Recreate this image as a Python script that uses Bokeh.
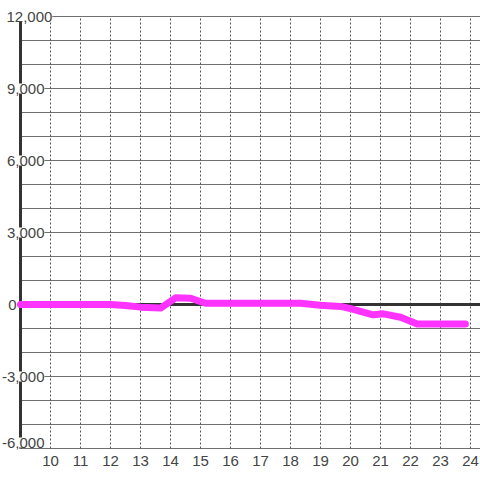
from bokeh.plotting import figure
from bokeh.models import FixedTicker, Range1d
from bokeh.core.properties import value
from bokeh.embed import file_html
from bokeh.resources import INLINE

# data
hours = [9, 12, 12.5, 13.0, 13.67, 14.17, 14.67, 15.17, 18.33, 19.0, 19.67,
         20.0, 20.75, 21.1, 21.67, 22.22, 23.83]
values = [0, 0, -40, -110, -150, 280, 260, 50, 50, -30, -80,
          -170, -430, -390, -530, -810, -810]
x_ticks = [10, 11, 12, 13, 14, 15, 16, 17, 18, 19, 20, 21, 22, 23, 24]
y_ticks_mid = [9000, 6000, 3000, -3000]
y_labels_mid = ["9,000", "6,000", "3,000", "-3,000"]
y_bottom = [-6000]
y_bottom_label = ["-6,000"]
y_top = [12000]
y_top_label = ["12,000"]
y_zero = [0]
y_zero_label = ["0"]
y_min, y_max, y_step = -6000, 12000, 1000
x_start = 9

FONT = "Liberation Sans"
TXT = "#444444"

px_per_x = 30.0          # pixels per hour
px_per_y = 24.0 / 1000   # pixels per unit
x_lo = x_start - 20 / px_per_x
x_hi = x_lo + 480 / px_per_x
y_hi = y_max + 16 / px_per_y
y_lo = y_min - 1 / px_per_y

p = figure(width=480, height=480, output_backend="svg", toolbar_location=None,
           x_range=Range1d(x_lo, x_hi), y_range=Range1d(y_lo, y_hi),
           min_border_left=0, min_border_right=0, min_border_top=0,
           min_border_bottom=31,
           styles={"position": "absolute", "left": "0px", "top": "0px"})
p.outline_line_color = None
p.background_fill_color = "white"
p.xgrid.visible = False
p.ygrid.visible = False
p.yaxis.visible = False

# x axis labels
p.xaxis.ticker = FixedTicker(ticks=x_ticks)
p.xaxis.axis_line_color = None
p.xaxis.major_tick_line_color = None
p.xaxis.minor_tick_line_color = None
p.xaxis.major_label_text_font = FONT
p.xaxis.major_label_text_font_size = "15px"
p.xaxis.major_label_text_color = TXT
p.xaxis.major_label_standoff = 0

# horizontal grid lines
gy = list(range(y_min, y_max + 1, y_step))
p.segment(x0=[x_start] * len(gy), x1=[x_hi] * len(gy), y0=gy, y1=gy,
          line_color="#707070", line_width=1)
# vertical dotted grid lines
p.segment(x0=x_ticks, x1=x_ticks, y0=[y_min] * len(x_ticks), y1=[y_max] * len(x_ticks),
          line_color="#555555", line_width=1, line_dash="2 2")
# y axis line
p.segment(x0=[x_start], x1=[x_start], y0=[y_min], y1=[y_max],
          line_color="#333333", line_width=3)
# zero line
p.segment(x0=[x_start], x1=[x_hi], y0=[0], y1=[0], line_color="#333333", line_width=3)

# series
p.line(x=hours, y=values, line_color="#ff33ff", line_width=7,
       line_join="round", line_cap="round")

# y labels (drawn over the axis line with a white box)
common = dict(text_font=value(FONT), text_font_size="15px", text_color=TXT,
              text_baseline="middle", background_fill_color="white")
p.text(x=[x_start] * len(y_ticks_mid), y=y_ticks_mid, text=y_labels_mid,
       x_offset=24, text_align="right", **common)
p.text(x=[x_start], y=y_bottom, text=y_bottom_label, x_offset=24, y_offset=-6,
       text_align="right", **common)
p.text(x=[x_start], y=y_top, text=y_top_label, x_offset=-14,
       text_align="left", **common)
p.text(x=[x_start], y=y_zero, text=y_zero_label, x_offset=-4,
       text_align="right", **common)

open("out.html", "w").write(file_html(p, INLINE))
